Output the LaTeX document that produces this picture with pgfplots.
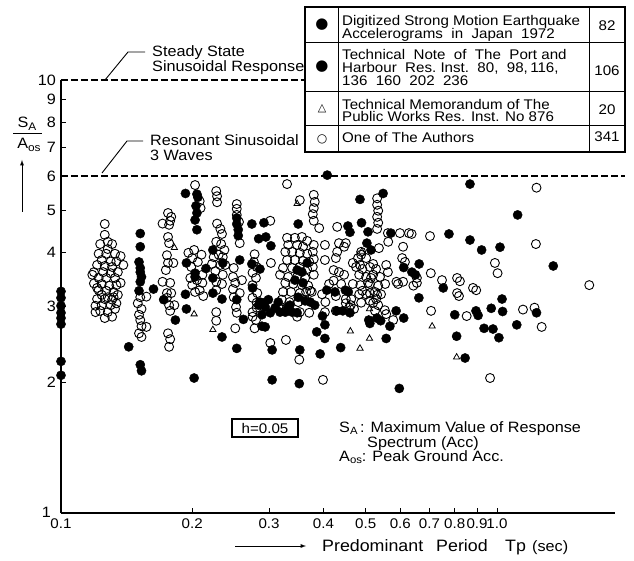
\documentclass[border=0pt]{standalone}
\usepackage{fontspec}
\setmainfont{Liberation Sans}[FakeStretch=1.08]
\newfontfamily\symfont{DejaVu Sans}
\usepackage{pgfplots}
\pgfplotsset{compat=1.18}

\newcommand\ann{\fontsize{15}{15}\selectfont}
\newcommand\leg{\fontsize{14}{11}\selectfont}

\begin{document}
\begin{tikzpicture}
\path[use as bounding box] (0pt,0pt) rectangle (634pt,560pt);

\begin{axis}[
  at={(61pt,47pt)}, anchor=south west,
  scale only axis, width=554pt, height=433pt,
  xmode=log, ymode=log,
  xmin=0.1, xmax=1.865, ymin=1, ymax=10,
  axis lines=left,
  axis line style={-, line width=1.3pt},
  clip=false,
  xtick={0.1,0.2,0.3,0.4,0.5,0.6,0.7,0.8,0.9,1},
  xticklabels={0.1,0.2,0.3,0.4,0.5,0.6,0.7,0.8,0.9,1.0},
  ytick={2,3,4,5,6,7,8,9,10},
  yticklabels={2,3,4,5,6,7,8,9,10},
  extra y ticks={1},
  extra y tick labels={1},
  extra y tick style={yticklabel style={xshift=-5pt, yshift=1pt}},
  tick align=inside,
  major tick length=5pt,
  tick style={black, line width=0.9pt},
  xticklabel style={font=\fontsize{14}{14}\selectfont, inner sep=2pt, yshift=-4pt},
  yticklabel style={font=\fontsize{15}{15}\selectfont, inner sep=2pt, xshift=-3pt},
]

% reference levels: steady-state and 3-wave resonant sinusoidal response
\addplot[black, line width=1.2pt, dash pattern=on 7pt off 3pt] coordinates {(0.1,10) (0.3627,10)};
\addplot[black, line width=1.2pt, dash pattern=on 7pt off 3pt] coordinates {(0.1,6) (1.966,6)};

% One of The Authors (open circles)
\addplot[only marks, mark=o, mark size=4.5pt, mark options={line width=0.9pt, black}] coordinates {
(0.126,4.65) (0.126,4.39) (0.128,4.23) (0.123,4.18) (0.131,4.18) (0.128,4.07) (0.122,3.97) (0.127,3.97)
(0.133,3.97) (0.137,3.92) (0.124,3.84) (0.130,3.81) (0.134,3.81) (0.121,3.74) (0.126,3.72) (0.131,3.70)
(0.139,3.74) (0.119,3.60) (0.125,3.60) (0.130,3.58) (0.135,3.60) (0.118,3.55) (0.122,3.49) (0.127,3.49)
(0.133,3.49) (0.119,3.39) (0.124,3.38) (0.129,3.35) (0.134,3.36) (0.137,3.40) (0.121,3.31) (0.122,3.27)
(0.127,3.26) (0.132,3.24) (0.124,3.19) (0.135,3.19) (0.128,3.15) (0.132,3.15) (0.121,3.12) (0.126,3.12)
(0.131,3.11) (0.124,3.02) (0.130,3.02) (0.120,3.01) (0.134,3.05) (0.133,2.96) (0.123,2.93) (0.128,2.91)
(0.120,2.91) (0.131,2.84) (0.126,2.82)
(0.152,3.15) (0.150,3.05) (0.153,2.96) (0.151,2.87) (0.152,2.79) (0.153,2.70) (0.157,2.69) (0.151,2.60)
(0.153,2.55) (0.157,3.16)
(0.176,4.93) (0.179,4.83) (0.178,4.73) (0.171,4.66) (0.177,4.63) (0.176,4.34) (0.177,4.20) (0.175,3.94)
(0.176,3.78) (0.181,3.78) (0.174,3.64) (0.171,3.42) (0.178,3.40) (0.175,3.22) (0.179,3.22) (0.175,3.14)
(0.177,3.02) (0.182,3.02) (0.178,2.93) (0.176,2.60) (0.178,2.52) (0.177,2.42)
(0.203,5.72) (0.208,5.25) (0.209,5.06) (0.196,3.99) (0.202,4.05) (0.210,3.95) (0.200,3.88) (0.206,3.80)
(0.199,3.70) (0.211,3.55) (0.198,3.49) (0.205,3.45) (0.211,3.40) (0.200,3.36) (0.203,3.24) (0.208,3.27)
(0.212,3.17)
(0.227,5.54) (0.228,5.39) (0.228,5.22) (0.228,4.66) (0.232,4.53) (0.234,4.41) (0.227,4.23) (0.233,4.18)
(0.237,4.05) (0.224,3.90) (0.230,3.95) (0.235,3.90) (0.222,3.76) (0.232,3.74) (0.238,3.74) (0.226,3.62)
(0.235,3.55) (0.227,3.42) (0.234,3.38) (0.227,3.27) (0.227,2.91) (0.227,2.78)
(0.253,5.17) (0.253,5.04) (0.253,4.88) (0.256,4.70) (0.257,4.20) (0.249,3.68) (0.248,3.51) (0.251,3.40)
(0.248,3.29) (0.257,3.22) (0.249,3.15) (0.252,2.99) (0.253,2.90) (0.251,2.67) (0.260,3.45) (0.278,3.96)
(0.277,3.80) (0.281,3.70) (0.275,3.59) (0.280,3.49) (0.275,3.36) (0.282,3.22) (0.275,3.14) (0.281,3.06)
(0.275,2.91) (0.280,2.79) (0.278,2.67) (0.302,4.73) (0.302,2.47) (0.303,3.78) (0.275,2.84) (0.281,2.98)
(0.330,5.75) (0.353,5.28) (0.380,5.43) (0.382,5.23) (0.380,5.06) (0.378,4.90) (0.380,4.73) (0.391,4.55)
(0.380,4.16) (0.378,4.01) (0.380,3.86) (0.378,3.70) (0.380,3.55) (0.373,3.26) (0.330,4.32) (0.344,4.32)
(0.357,4.34) (0.367,4.25) (0.332,4.16) (0.348,4.16) (0.359,4.12) (0.327,4.01) (0.339,4.01) (0.353,3.99)
(0.367,3.97) (0.330,3.84) (0.344,3.84) (0.359,3.82) (0.371,3.80) (0.323,3.68) (0.339,3.68) (0.353,3.70)
(0.367,3.66) (0.318,3.55) (0.332,3.51) (0.348,3.51) (0.363,3.49) (0.327,3.40) (0.341,3.38) (0.357,3.36)
(0.369,3.35) (0.323,3.24) (0.337,3.24) (0.353,3.22) (0.365,3.24) (0.321,3.11) (0.334,3.07) (0.350,3.07)
(0.363,3.11) (0.316,2.98) (0.330,2.98) (0.353,2.91) (0.371,2.90) (0.348,2.84) (0.328,2.51) (0.352,2.26)
(0.399,2.03)
(0.430,4.58) (0.403,4.16) (0.434,4.20) (0.446,4.12) (0.450,4.20) (0.430,4.01) (0.403,3.84) (0.427,3.88)
(0.422,3.64) (0.434,3.60) (0.446,3.55) (0.422,3.44) (0.439,3.38) (0.412,3.38) (0.376,3.24) (0.397,3.20)
(0.427,3.17) (0.450,3.12) (0.458,2.98) (0.427,2.93) (0.403,2.91) (0.470,2.96) (0.463,3.12) (0.404,3.07)
(0.450,3.05) (0.462,3.02)
(0.531,5.33) (0.531,5.15) (0.534,4.99) (0.531,4.83) (0.534,4.68) (0.531,4.53)
(0.562,4.43) (0.563,4.23) (0.599,4.43) (0.609,4.12) (0.637,4.41) (0.536,4.09) (0.488,4.01) (0.480,3.88)
(0.501,3.88) (0.520,3.76) (0.475,3.70) (0.491,3.66) (0.511,3.70) (0.528,3.66) (0.557,3.74) (0.562,3.60)
(0.483,3.55) (0.501,3.51) (0.520,3.55) (0.539,3.51) (0.467,3.38) (0.486,3.36) (0.511,3.38) (0.534,3.35)
(0.554,3.38) (0.593,3.38) (0.615,3.80) (0.609,3.42) (0.643,3.35) (0.483,3.20) (0.501,3.20) (0.525,3.24)
(0.542,3.20) (0.488,3.06) (0.511,3.09) (0.528,3.12) (0.525,2.93) (0.557,2.88) (0.514,3.49) (0.506,3.40)
(0.491,3.26) (0.511,3.22) (0.531,3.19) (0.520,3.06) (0.534,3.02) (0.488,3.95) (0.467,3.78) (0.485,3.74)
(0.628,4.43) (0.702,4.36) (0.606,3.88) (0.705,3.58) (0.655,3.49) (0.655,3.40) (0.588,3.42) (0.748,3.45)
(0.810,3.49) (0.810,3.22) (0.881,3.31) (0.989,3.78) (1.003,3.58) (0.553,2.94) (0.578,2.79) (0.706,2.93)
(0.852,2.85) (1.147,2.95) (0.964,2.05) (0.822,3.43) (0.818,3.17) (0.896,3.27) (1.219,2.98) (1.266,2.69)
(1.232,5.64) (1.228,4.18) (1.628,3.36)
};

% Technical Memorandum of the Public Works Res. Inst. (triangles)
\addplot[only marks, mark=triangle, mark size=3.6pt, mark options={line width=0.8pt, black}] coordinates {
(0.182,4.10) (0.202,2.88) (0.223,2.65) (0.348,5.18) (0.461,2.63) (0.510,2.53) (0.485,2.40) (0.510,2.96)
(0.710,2.70) (0.808,2.29) (0.490,4.02)
};

% Digitized records 1972 and Port and Harbour Res. Inst. records (filled circles)
\addplot[only marks, mark=*, mark size=4.6pt, mark options={fill=black, draw=black}] coordinates {
(0.100,3.25) (0.100,3.14) (0.100,3.01) (0.100,2.90) (0.100,2.82) (0.100,2.73) (0.100,2.24) (0.100,2.08)
(0.152,4.42) (0.152,4.12) (0.151,3.80) (0.152,3.68) (0.152,3.60) (0.153,3.51) (0.152,3.42) (0.151,3.26)
(0.152,2.20) (0.153,2.13) (0.163,3.29) (0.143,2.42) (0.172,3.11) (0.183,2.79)
(0.193,5.47) (0.205,5.45) (0.206,5.36) (0.204,5.12) (0.205,4.93) (0.203,4.75) (0.205,4.51) (0.194,3.78)
(0.203,3.58) (0.203,3.51) (0.193,3.20) (0.194,2.96) (0.202,2.05) (0.215,3.67)
(0.223,3.49) (0.223,4.05) (0.223,3.22) (0.234,3.12) (0.234,2.55) (0.235,3.78)
(0.253,4.80) (0.253,4.65) (0.255,4.51) (0.255,4.37) (0.257,3.84) (0.253,3.11) (0.262,2.80) (0.253,2.40)
(0.274,4.65) (0.292,4.68) (0.295,4.34) (0.284,4.30) (0.303,4.14) (0.274,3.76) (0.286,3.66) (0.275,3.31)
(0.284,3.02) (0.292,3.06) (0.289,2.70) (0.305,2.38) (0.305,2.03)
(0.408,6.03) (0.350,4.65) (0.357,3.60) (0.344,3.45) (0.359,3.40) (0.350,3.15) (0.363,3.09) (0.339,2.91)
(0.382,3.02) (0.373,3.07) (0.353,2.38) (0.352,1.99) (0.403,2.72) (0.286,3.07) (0.294,2.99) (0.310,2.98)
(0.302,2.90) (0.289,2.87) (0.315,3.07) (0.327,2.91) (0.294,2.69) (0.332,2.99) (0.348,3.64) (0.367,3.78)
(0.299,3.11) (0.318,2.91) (0.335,3.02) (0.348,2.90)
(0.485,5.30) (0.548,5.47) (0.455,4.60) (0.460,4.45) (0.489,4.68) (0.506,4.46) (0.571,4.43) (0.503,4.20)
(0.514,4.05) (0.611,3.69) (0.638,3.60) (0.663,3.76) (0.650,3.55) (0.753,3.31) (0.776,4.41) (0.867,4.27)
(0.922,4.05) (1.016,4.11) (0.867,5.75) (1.115,4.88) (1.346,3.72) (0.662,3.14) (0.587,2.93) (0.611,2.82)
(0.511,2.74) (0.541,2.78) (0.568,2.70) (0.557,2.53) (0.800,2.87) (0.895,2.93) (0.905,2.86) (0.970,2.97)
(1.027,3.12) (1.030,2.92) (0.934,2.67) (0.979,2.66) (1.010,2.54) (0.808,2.56) (1.110,2.72) (1.232,2.90)
(0.845,2.28) (0.597,1.94) (0.438,2.41) (0.386,2.62) (0.403,2.53) (0.398,2.85) (0.508,2.79) (0.530,2.82)
(0.429,2.93) (0.443,2.93) (0.460,2.90) (0.449,3.27) (0.456,3.24) (0.425,3.24) (0.407,3.27) (0.393,2.33)
};
\end{axis}

\begin{scope}[x=1pt,y=1pt]
% leader lines and notes for the two reference levels
\draw[line width=0.9pt] (105,480) -- (128,508) -- (145,508);
\node[anchor=base west, inner sep=0, font=\ann] at (152,503) {Steady State};
\node[anchor=base west, inner sep=0, font=\ann] at (152,488) {Sinusoidal Response};
\draw[line width=0.9pt] (102,387) -- (127,419) -- (143,419);
\node[anchor=base west, inner sep=0, font=\ann] at (150,414) {Resonant Sinusoidal};
\node[anchor=base west, inner sep=0, font=\ann] at (150,399) {3 Waves};

% y-axis quantity SA/Aos with arrow
\node[anchor=base, inner sep=0, font=\fontsize{15}{15}\selectfont] at (27,432) {S\raisebox{-2.5pt}{\fontsize{11}{11}\selectfont A}};
\draw[line width=0.9pt] (13,427) -- (42,427);
\node[anchor=base, inner sep=0, font=\fontsize{15}{15}\selectfont] at (29,411) {A\raisebox{-3pt}{\fontsize{11}{11}\selectfont os}};
\draw[line width=0.9pt, -latex] (22,348) -- (22,400);

% x-axis quantity with arrow
\draw[line width=0.9pt, -latex] (235,14) -- (306,14);
\begin{scope}[every node/.style={anchor=base west, inner sep=0, font=\fontsize{16.5}{16.5}\selectfont}]
\node at (322,9) {Predominant};
\node at (436,9) {Period};
\node at (505,9) {Tp};
\node at (532,9) {\fontsize{15}{15}\selectfont(sec)};
\end{scope}

% damping ratio box
\draw[line width=1.1pt] (232,123) rectangle (298,141);
\node[inner sep=0, font=\fontsize{14}{14}\selectfont] at (265,132) {h=0.05};

% definitions
\begin{scope}[every node/.style={anchor=base west, inner sep=0, font=\fontsize{15}{15}\selectfont}]
\node at (339,128) {S\raisebox{-2pt}{\fontsize{10.5}{10.5}\selectfont A}\,: Maximum\ Value\ of\ Response};
\node at (367,113) {Spectrum (Acc)};
\node at (339,99) {A\raisebox{-2pt}{\fontsize{10.5}{10.5}\selectfont os}: Peak Ground Acc.};
\end{scope}

% data source table
\fill[white] (305,408) rectangle (625,553);
\draw[line width=1.1pt] (305,408) rectangle (625,553);
\draw[line width=2pt] (305,553) -- (625,553);
\draw[line width=1.6pt] (625,553) -- (625,408);
\draw[line width=1pt] (338,553) -- (338,408) (589,553) -- (589,408);
\draw[line width=1pt] (305,517) -- (625,517) (305,468) -- (625,468) (305,434) -- (625,434);
\node[inner sep=0, font=\symfont\fontsize{15}{15}\selectfont] at (322,535) {●};
\node[inner sep=0, font=\symfont\fontsize{15}{15}\selectfont] at (322,493) {●};
\node[inner sep=0, font=\symfont\fontsize{11}{11}\selectfont] at (322,451) {△};
\node[inner sep=0, font=\symfont\fontsize{12}{12}\selectfont] at (322,421) {○};
\begin{scope}[every node/.style={anchor=base west, inner sep=0, font=\leg}]
\node at (342,534) {Digitized Strong Motion Earthquake};
\node at (342,521.5) {Accelerograms\ \ in\ \ Japan\ \ 1972};
\node at (342,500) {Technical\ \ Note\ \ of\ \ The\ \ Port\ and};
\node at (342,487.5) {Harbour\ \ Res.\ Inst.\ \ 80,\ \ 98,\,116,};
\node at (342,474) {136\ \ 160\ \ 202\ \ 236};
\node at (342,450.5) {Technical Memorandum of The};
\node at (342,438) {Public Works Res. Inst. No 876};
\node at (342,417.5) {One\ of\ The\ Authors};
\end{scope}
\begin{scope}[every node/.style={anchor=base, inner sep=0, font=\fontsize{14}{14}\selectfont}]
\node at (607,529) {82};
\node at (607,484) {106};
\node at (607,445) {20};
\node at (607,418) {341};
\end{scope}
\end{scope}
\end{tikzpicture}
\end{document}
